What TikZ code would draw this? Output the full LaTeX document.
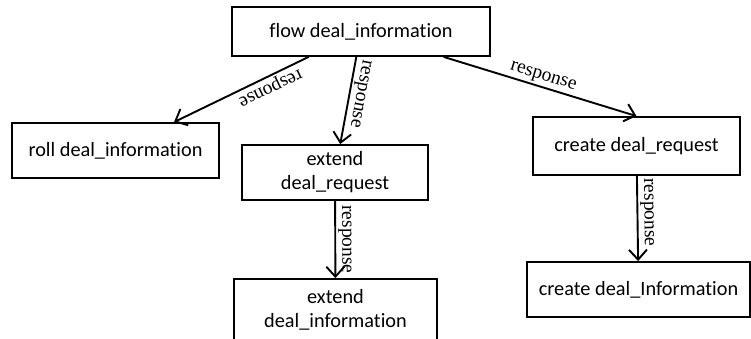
\documentclass[tikz,border=0pt]{standalone}
\usepackage{fontspec}
\setmainfont{Carlito}[RawFeature=-liga]
\newfontfamily\labelfont{Liberation Serif}
\usetikzlibrary{arrows.meta}
\begin{document}
\begin{tikzpicture}[x=1pt,y=-1pt,
  box/.style={draw, line width=1.8pt, rectangle, inner sep=0pt, align=center,
    font=\fontsize{20.3}{24}\selectfont},
  flow/.style={line width=1.9pt, -{Straight Barb[length=10pt,width=18pt]}},
  resp/.style={sloped, allow upside down, above, inner sep=2pt,
    font=\labelfont\fontsize{19.5}{22}\selectfont}]
  \useasboundingbox (0,0) rectangle (751,338);

  % message boxes
  \node[box, minimum width=258pt, minimum height=49pt] (top) at (361,31.5) {flow deal\_information};
  \node[box, minimum width=207pt, minimum height=55pt] (roll) at (115.5,150.5) {roll deal\_information};
  \node[box, minimum width=186pt, minimum height=55pt] (edr) at (335,172.5) {extend\\deal\_request};
  \node[box, minimum width=203pt, minimum height=62pt] (edi) at (335.5,310) {extend\\deal\_information};
  \node[box, minimum width=207pt, minimum height=58pt] (cdr) at (636.5,146) {create deal\_request};
  \node[box, minimum width=223pt, minimum height=55pt] (cdi) at (638.5,289.5) {create deal\_Information};

  % response connectors
  \draw[flow] (top) -- node[resp, pos=0.32] {response} (roll);
  \draw[flow] (top) -- node[resp, pos=0.4] {response} (edr);
  \draw[flow] (top) -- node[resp, pos=0.5] {response} (cdr.north);
  \draw[flow] (edr) -- node[resp, pos=0.5] {response} (edi);
  \draw[flow] (cdr) -- node[resp, pos=0.43] {response} (cdi);
\end{tikzpicture}
\end{document}
